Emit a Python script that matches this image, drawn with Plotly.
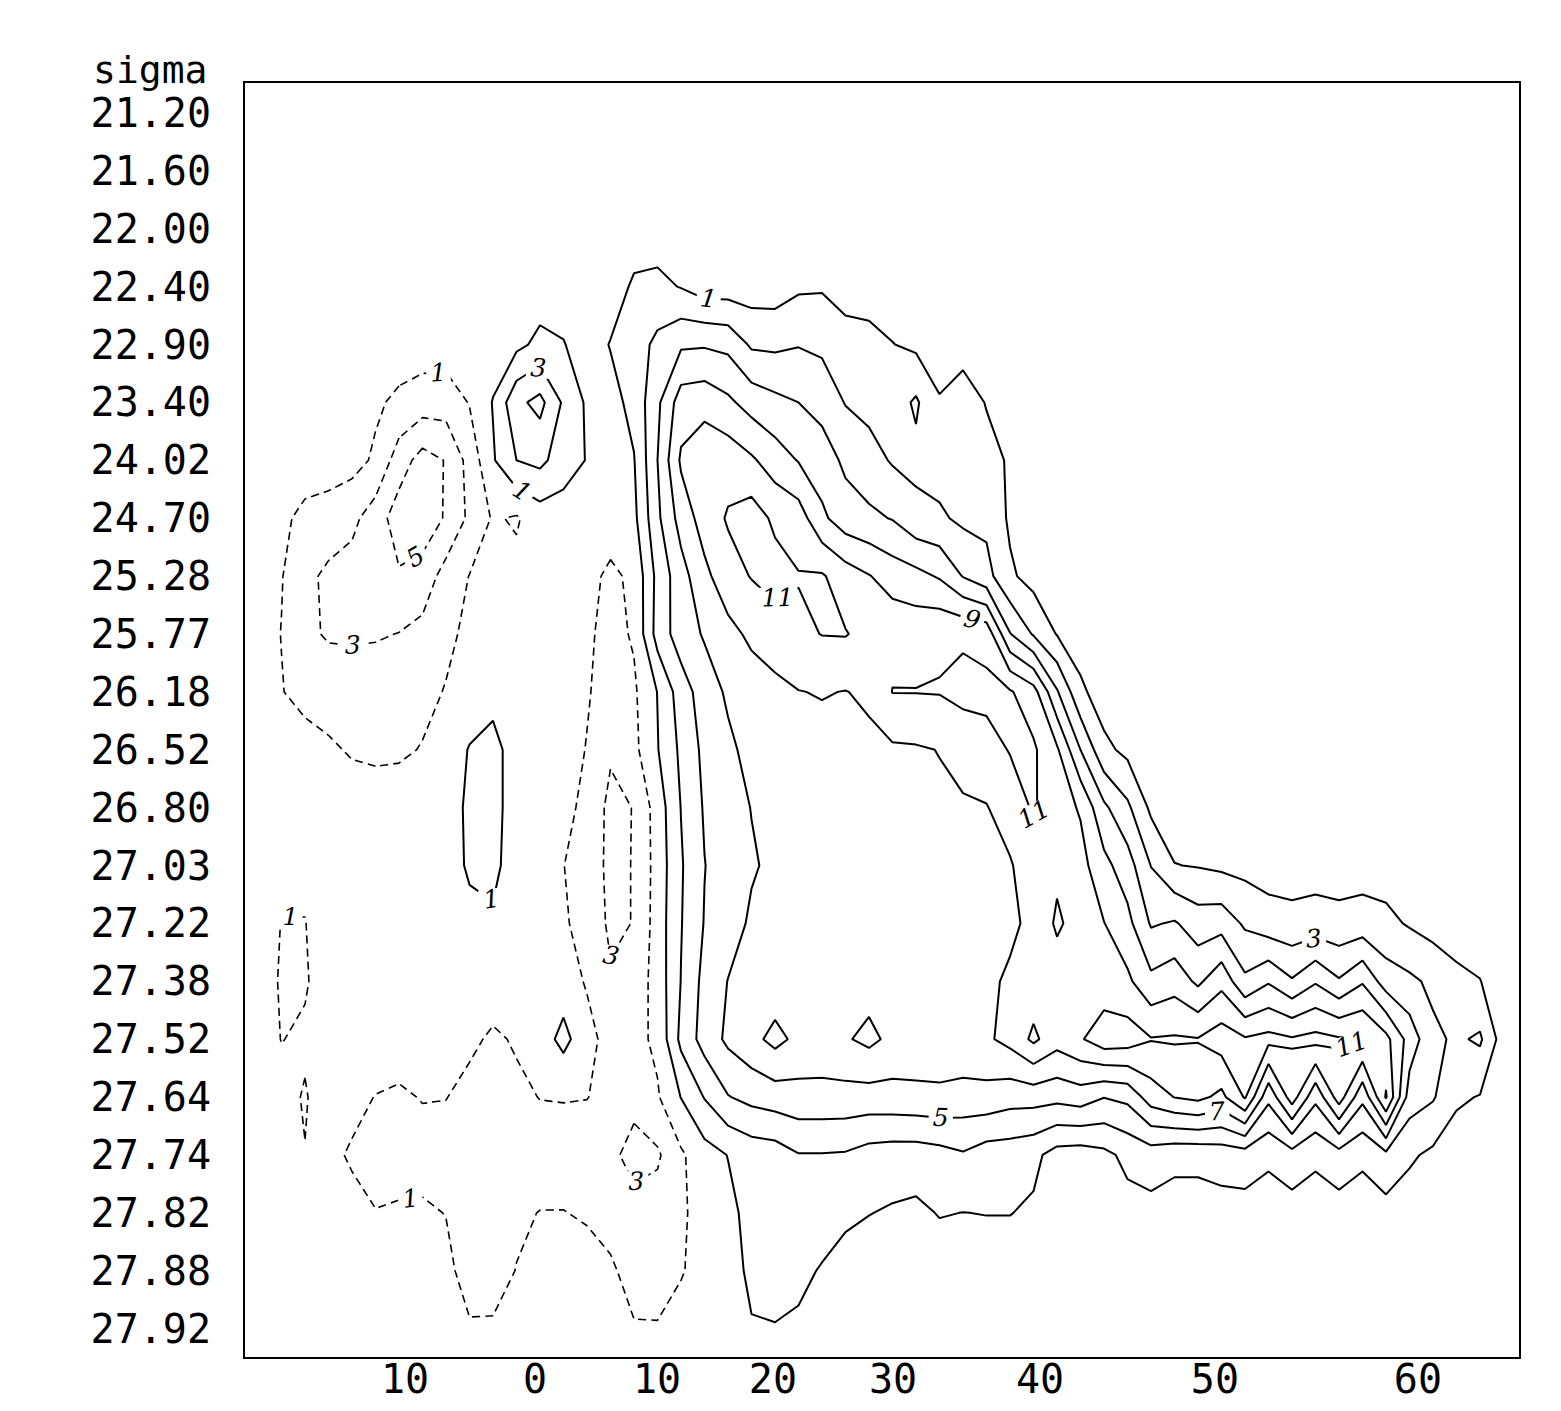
import plotly.graph_objects as go

# ---- data: station index along the section, sigma level index ----
station = list(range(54))
sigma_idx = list(range(22))
sigma_labels = ["21.20", "21.60", "22.00", "22.40", "22.90", "23.40", "24.02", "24.70",
                "25.28", "25.77", "26.18", "26.52", "26.80", "27.03", "27.22", "27.38",
                "27.52", "27.64", "27.74", "27.82", "27.88", "27.92"]
lat_tick_pos = [6.26, 11.79, 16.98, 21.91, 27.02, 33.28, 40.72, 49.36]
lat_tick_text = ["10", "0", "10", "20", "30", "40", "50", "60"]

# field values, one list per sigma level (54 stations each)
row_00 = [0] * 54
row_01 = [0] * 54
row_02 = [0] * 54
row_03 = [0, 0, 0, 0, 0, 0, 0, 0, 0, 0,
          0, 0, 0, 0, 0, 0, 1.3, 1.5, 0.9, 0,
          0, 0, 0, 0.7, 0.8, 0, 0, 0, 0, 0,
          0, 0, 0, 0, 0, 0, 0, 0, 0, 0,
          0, 0, 0, 0, 0, 0, 0, 0, 0, 0,
          0, 0, 0, 0]
row_04 = [0, 0, 0, 0, 0, 0, 0, 0, 0, 0,
          0, 0.5, 1.5, 1.1, 0, 1.1, 2.0, 3.5, 4.7, 4.8,
          4.5, 2.7, 2.6, 2.9, 2.6, 2.0, 1.7, 1.05, 0.6, 0.4,
          0.6, 0.3, 0, 0, 0, 0, 0, 0, 0, 0,
          0, 0, 0, 0, 0, 0, 0, 0, 0, 0,
          0, 0, 0, 0]
row_05 = [0, 0, 0, 0, 0, -0.7, -1.4, -2.0, -2.1, -0.9,
          1.1, 4.5, 5.6, 2.7, 0.7, 0.3, 1.6, 4.6, 8.0, 8.3,
          7.4, 6.2, 5.5, 5.0, 4.3, 2.9, 2.4, 2.0, 3.3, 1.1,
          1.5, 0.95, 0, 0, 0, 0, 0, 0, 0, 0,
          0, 0, 0, 0, 0, 0, 0, 0, 0, 0,
          0, 0, 0, 0]
row_06 = [0, 0, 0, 0, -0.3, -1.3, -4.0, -5.8, -4.9, -2.3,
          0.8, 3.0, 3.5, 2.0, 0.9, 0, 0.9, 5.0, 9.3, 10.4,
          10.2, 9.3, 8.0, 6.9, 6.0, 4.6, 3.8, 2.8, 2.5, 2.2,
          1.8, 1.3, 0.9, 0, 0, 0, 0, 0, 0, 0,
          0, 0, 0, 0, 0, 0, 0, 0, 0, 0,
          0, 0, 0, 0]
row_07 = [0, -0.6, -1.5, -1.9, -2.5, -4.0, -6.0, -6.2, -4.8, -2.6,
          -0.8, -1.2, 0, 0, 0, 0, 0.5, 4.6, 7.8, 9.9,
          11.2, 12.0, 10.6, 10.0, 7.4, 5.9, 5.4, 4.9, 3.6, 3.3,
          2.6, 2.5, 0.7, 0, 0, 0, 0, 0, 0, 0,
          0, 0, 0, 0, 0, 0, 0, 0, 0, 0,
          0, 0, 0, 0]
row_08 = [0, -0.9, -2.5, -3.4, -3.8, -4.5, -4.8, -4.2, -2.2, -0.95,
          -0.6, -0.5, 0, 0, -0.4, -1.4, -0.6, 3.6, 6.2, 8.5,
          10.2, 11.1, 11.8, 11.1, 11.2, 10.0, 9.1, 8.1, 7.6, 6.8,
          4.9, 3.7, 1.3, 0.3, 0, 0, 0, 0, 0, 0,
          0, 0, 0, 0, 0, 0, 0, 0, 0, 0,
          0, 0, 0, 0]
row_09 = [0, -1.05, -2.6, -3.2, -3.3, -3.2, -2.95, -2.4, -1.4, -0.6,
          0, 0, 0, 0, -0.7, -1.6, -0.8, 3.8, 6.0, 7.2,
          8.4, 9.4, 10.0, 10.6, 11.05, 11.1, 10.4, 10.4, 10.3, 10.7,
          10.7, 10.3, 5.1, 2.8, 0.9, 0, 0, 0, 0, 0,
          0, 0, 0, 0, 0, 0, 0, 0, 0, 0,
          0, 0, 0, 0]
row_10 = [0, -0.9, -1.8, -1.9, -1.8, -1.8, -1.7, -1.5, -0.9, 0,
          0.3, 0, 0, 0, -0.8, -2.0, -1.3, 1.05, 4.0, 6.0,
          7.3, 8.0, 8.5, 8.95, 9.1, 8.95, 9.3, 11.05, 11.05, 11.1,
          11.6, 11.5, 11.2, 9.8, 5.2, 1.4, 0, 0, 0, 0,
          0, 0, 0, 0, 0, 0, 0, 0, 0, 0,
          0, 0, 0, 0]
row_11 = [0, 0, 0, -0.7, -1.2, -1.4, -1.3, -0.9, 0, 1.1,
          1.7, 0, 0, 0, -1.1, -2.8, -1.5, 0.9, 3.4, 5.5,
          6.6, 7.6, 8.0, 8.2, 8.4, 8.5, 8.6, 8.7, 8.8, 9.05,
          9.6, 10.3, 11.1, 11.3, 9.3, 5.0, 1.5, 0.5, 0, 0,
          0, 0, 0, 0, 0, 0, 0, 0, 0, 0,
          0, 0, 0, 0]
row_12 = [0, 0, 0, 0, 0, 0, 0, 0, 0, 1.4,
          1.7, 0, 0, 0, -1.9, -3.4, -2.95, -0.1, 3.05, 5.2,
          6.2, 7.05, 7.6, 8.0, 8.2, 8.3, 8.4, 8.5, 8.6, 8.7,
          8.8, 8.9, 10.0, 11.2, 9.9, 8.8, 5.4, 3.4, 0.6, 0,
          0, 0, 0, 0, 0, 0, 0, 0, 0, 0,
          0, 0, 0, 0]
row_13 = [0, -0.6, -0.6, 0, 0, 0, 0, 0, 0, 1.3,
          1.5, 0, 0, -0.95, -2.3, -3.3, -2.95, -0.2, 2.8, 4.95,
          6.0, 6.8, 7.4, 7.8, 8.0, 8.1, 8.2, 8.3, 8.4, 8.5,
          8.6, 8.7, 8.8, 10.3, 10.6, 9.7, 7.6, 5.9, 2.95, 1.05,
          0.9, 0.6, 0.4, 0.2, 0.1, 0.2, 0.1, 0.2, 0.1, 0,
          0, 0, 0, 0]
row_14 = [0, -1.05, -1.05, 0, 0, 0, 0, 0, 0, 0.4,
          0.7, 0, 0, -0.7, -1.9, -3.3, -2.95, -0.1, 2.9, 5.1,
          6.1, 7.3, 7.8, 8.0, 8.1, 8.2, 8.3, 8.3, 8.4, 8.4,
          8.5, 8.5, 8.6, 9.5, 11.3, 10.2, 9.05, 7.6, 4.8, 5.2,
          4.0, 4.2, 2.7, 1.8, 1.6, 1.8, 1.6, 1.8, 1.5, 0.8,
          0.2, 0, 0, 0]
row_15 = [0, -1.2, -1.2, 0, 0, 0, 0, 0, 0, 0,
          0, 0, 0, 0, -1.2, -2.8, -2.2, -0.2, 3.05, 5.6,
          7.05, 7.6, 7.8, 8.0, 8.1, 8.2, 8.2, 8.3, 8.3, 8.4,
          8.5, 8.6, 9.3, 9.9, 10.0, 10.0, 9.8, 9.4, 7.5, 8.2,
          6.6, 8.4, 5.4, 6.8, 5.2, 6.8, 5.2, 6.8, 4.0, 3.4,
          2.6, 1.5, 1.05, 0]
row_16 = [0, -1.05, -0.7, 0, 0, 0, 0, 0, 0, -0.6,
          -1.3, -0.8, 0, 1.6, -0.3, -1.8, -1.6, -0.6, 3.5, 5.8,
          7.4, 8.4, 9.6, 8.5, 8.4, 8.8, 9.5, 8.5, 8.5, 8.5,
          8.6, 8.7, 9.6, 11.4, 9.8, 10.8, 12.2, 12.0, 11.1, 11.2,
          11.1, 12.0, 11.2, 11.6, 11.2, 11.6, 11.2, 11.2, 9.6, 6.2,
          3.4, 2.7, 3.3, 0]
row_17 = [0, -0.4, -1.15, 0, -0.5, -1.05, -1.3, -0.9, -0.95, -1.6,
          -2.0, -1.4, -0.95, -0.9, -0.95, -1.6, -2.5, -1.2, 1.05, 3.1,
          4.9, 5.6, 6.0, 6.3, 6.3, 6.3, 6.2, 6.3, 6.4, 6.5,
          6.2, 6.3, 5.8, 5.8, 5.6, 6.0, 5.05, 5.5, 8.0, 9.05,
          9.5, 8.5, 11.2, 5.5, 10.0, 5.5, 10.0, 5.5, 11.2, 4.0,
          3.2, 1.3, 0.9, 0]
row_18 = [0, -0.4, -0.95, -0.6, -1.2, -1.6, -1.7, -1.8, -1.9, -2.0,
          -2.1, -2.1, -2.0, -1.9, -2.1, -2.6, -3.6, -3.3, -1.3, 0.2,
          1.05, 1.8, 2.0, 2.9, 2.9, 2.8, 2.2, 2.0, 2.0, 2.3,
          2.8, 2.0, 1.9, 1.5, 0.2, 0, 0.5, 1.5, 2.0, 1.5,
          1.5, 1.8, 2.0, 1.4, 2.2, 1.4, 2.2, 1.4, 2.5, 1.3,
          0.6, 0, 0, 0]
row_19 = [0, 0, 0, 0, -0.5, -0.95, -0.8, -0.7, -1.05, -1.7,
          -1.7, -1.3, -0.95, -0.95, -1.2, -1.5, -2.4, -2.1, -1.4, 0,
          0.5, 1.6, 1.8, 1.8, 1.6, 1.5, 1.05, 0.8, 0.6, 1.1,
          0.98, 1.05, 1.05, 0.7, 0, 0, 0, 0.3, 0.4, 0.2,
          0.2, 0.3, 0.3, 0, 0.2, 0, 0.2, 0, 0.3, 0,
          0, 0, 0, 0]
row_20 = [0, 0, 0, 0, 0, 0, 0, 0, -0.5, -1.8,
          -1.7, -0.95, 0, 0, -0.3, -0.8, -1.5, -1.6, -1.2, 0,
          0.4, 1.3, 1.4, 1.3, 0.9, 0, 0, 0, 0, 0,
          0, 0, 0, 0, 0, 0, 0, 0, 0, 0,
          0, 0, 0, 0, 0, 0, 0, 0, 0, 0,
          0, 0, 0, 0]
row_21 = [0, 0, 0, 0, 0, 0, 0, 0, 0, -0.8,
          -0.8, 0, 0, 0, 0, 0, -0.9, -0.9, 0, 0,
          0, 0.9, 0.95, 0.8, 0, 0, 0, 0, 0, 0,
          0, 0, 0, 0, 0, 0, 0, 0, 0, 0,
          0, 0, 0, 0, 0, 0, 0, 0, 0, 0,
          0, 0, 0, 0]

field = [row_00, row_01, row_02, row_03, row_04, row_05, row_06, row_07,
         row_08, row_09, row_10, row_11, row_12, row_13, row_14, row_15,
         row_16, row_17, row_18, row_19, row_20, row_21]
# negative part drawn dashed, labelled by magnitude
neg_field = [[-v for v in r] for r in field]

label_font = dict(family="DejaVu Serif", size=25, color="black", style="italic")

fig = go.Figure()
fig.add_trace(go.Contour(
    z=field, x=station, y=sigma_idx,
    autocontour=False,
    contours=dict(start=1, end=13, size=2, coloring="none",
                  showlabels=True, labelfont=label_font, labelformat=".0f"),
    line=dict(color="black", width=2, smoothing=0),
    showscale=False, hoverinfo="skip"))
fig.add_trace(go.Contour(
    z=neg_field, x=station, y=sigma_idx,
    autocontour=False,
    contours=dict(start=1, end=5, size=2, coloring="none",
                  showlabels=True, labelfont=label_font, labelformat=".0f"),
    line=dict(color="black", width=1.6, smoothing=0, dash="8px,5px"),
    showscale=False, hoverinfo="skip"))

tick_font = dict(family="DejaVu Sans Mono", size=40, color="black")

# page body has an 8px margin, so the figure is sized to sit inside the window
fig.update_layout(
    width=1543, height=1393,
    margin=dict(l=237, r=32, t=75, b=44),
    paper_bgcolor="white", plot_bgcolor="white",
    showlegend=False,
    xaxis=dict(range=[-0.553, 53.66], showgrid=False, zeroline=False,
               showline=True, mirror=True, linecolor="black", linewidth=2,
               ticks="", tickmode="array", tickvals=lat_tick_pos,
               ticktext=lat_tick_text, tickfont=tick_font, ticklabelstandoff=-14,
               automargin=False),
    yaxis=dict(range=[21.49, -0.518], showgrid=False, zeroline=False,
               showline=True, mirror=True, linecolor="black", linewidth=2,
               ticks="", tickmode="array", tickvals=sigma_idx,
               ticktext=sigma_labels, tickfont=tick_font, ticklabelstandoff=24,
               automargin=False),
    annotations=[dict(text="sigma", xref="paper", yref="paper",
                      x=-0.0746, y=1.0102, xanchor="center", yanchor="middle",
                      showarrow=False,
                      font=dict(family="DejaVu Sans Mono", size=38, color="black"))],
)

fig.write_html("out.html")
